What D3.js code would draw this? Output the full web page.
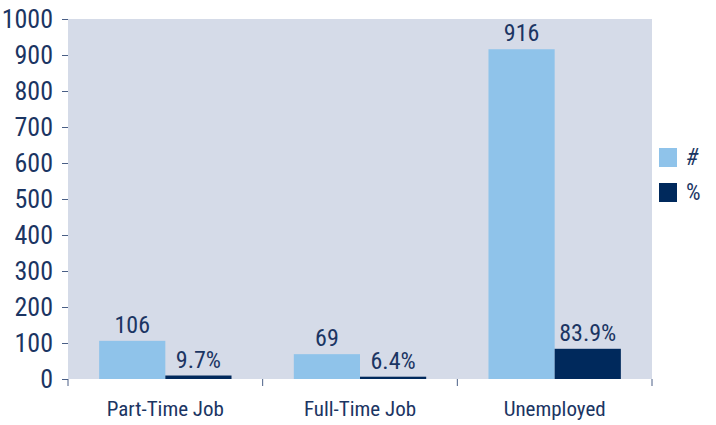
<!DOCTYPE html>
<html>
<head>
<meta charset="utf-8">
<script src="https://cdn.jsdelivr.net/npm/d3@7"></script>
<style>
  body { margin: 0; background: #fff; }
  text { font-family: "Roboto Condensed", "DejaVu Sans Condensed", sans-serif; fill: #1b3563; }
</style>
</head>
<body>
<script>
// values
const categories = ["Part-Time Job", "Full-Time Job", "Unemployed"];
const keys = ["#", "%"];
const counts = [106, 69, 916];
const percents = [9.7, 6.4, 83.9];
const yTicks = [0, 100, 200, 300, 400, 500, 600, 700, 800, 900, 1000];

const width = 716, height = 425;
const margin = {top: 19, right: 64, bottom: 46, left: 68};

const colors = {"#": "#8fc3ea", "%": "#00295c"};

const rows = categories.map((c, i) => ({
  category: c,
  values: [
    {key: "#", value: counts[i], label: String(counts[i])},
    {key: "%", value: percents[i], label: percents[i].toFixed(1) + "%"}
  ]
}));

const svg = d3.select("body").append("svg")
    .attr("width", width)
    .attr("height", height);

const x0 = d3.scaleBand()
    .domain(categories)
    .range([margin.left, width - margin.right])
    .paddingInner(0.32)
    .paddingOuter(0.16);

const x1 = d3.scaleBand()
    .domain(keys)
    .range([0, x0.bandwidth()]);

const y = d3.scaleLinear()
    .domain([0, 1000])
    .range([height - margin.bottom, margin.top]);

// plot background
svg.append("rect")
    .attr("x", margin.left)
    .attr("y", margin.top)
    .attr("width", width - margin.right - margin.left)
    .attr("height", y(0) - margin.top)
    .attr("fill", "#d5dbe8");

// y axis
svg.append("g")
    .attr("transform", `translate(${margin.left},0)`)
    .call(d3.axisLeft(y).tickValues(yTicks).tickFormat(d3.format("d")).tickSize(6).tickPadding(9))
    .call(g => g.select(".domain").remove())
    .call(g => g.selectAll(".tick line").attr("stroke", "#4a5f86"))
    .call(g => g.selectAll(".tick text")
        .attr("fill", "#1b3563")
        .attr("font-size", 26));

// x axis: ticks at category boundaries
const step = x0.step();
const bounds = d3.range(categories.length + 1).map(i => margin.left + i * step);
svg.append("g")
    .selectAll("line")
    .data(bounds)
    .join("line")
      .attr("x1", d => d)
      .attr("x2", d => d)
      .attr("y1", y(0))
      .attr("y2", y(0) + 7)
      .attr("stroke", "#4a5f86");

svg.append("g")
    .selectAll("text")
    .data(categories)
    .join("text")
      .attr("x", d => x0(d) + x0.bandwidth() / 2)
      .attr("y", 416)
      .attr("text-anchor", "middle")
      .attr("font-size", 21)
      .text(d => d);

// bars
const group = svg.append("g")
  .selectAll("g")
  .data(rows)
  .join("g")
    .attr("transform", d => `translate(${x0(d.category)},0)`);

group.selectAll("rect")
  .data(d => d.values)
  .join("rect")
    .attr("x", d => x1(d.key))
    .attr("y", d => y(d.value))
    .attr("width", x1.bandwidth())
    .attr("height", d => y(0) - y(d.value))
    .attr("fill", d => colors[d.key]);

group.selectAll("text")
  .data(d => d.values)
  .join("text")
    .attr("x", d => x1(d.key) + x1.bandwidth() / 2)
    .attr("y", d => y(d.value) - 8)
    .attr("text-anchor", "middle")
    .attr("font-size", 24)
    .text(d => d.label);

// legend
const legend = svg.append("g")
  .selectAll("g")
  .data(keys)
  .join("g")
    .attr("transform", (d, i) => `translate(659,${148 + i * 35})`);

legend.append("rect")
    .attr("width", 18)
    .attr("height", 19)
    .attr("fill", d => colors[d]);

legend.append("text")
    .attr("x", 27)
    .attr("y", 17)
    .attr("font-size", 23)
    .attr("font-style", (d, i) => i === 0 ? "italic" : null)
    .text(d => d);
</script>
</body>
</html>
